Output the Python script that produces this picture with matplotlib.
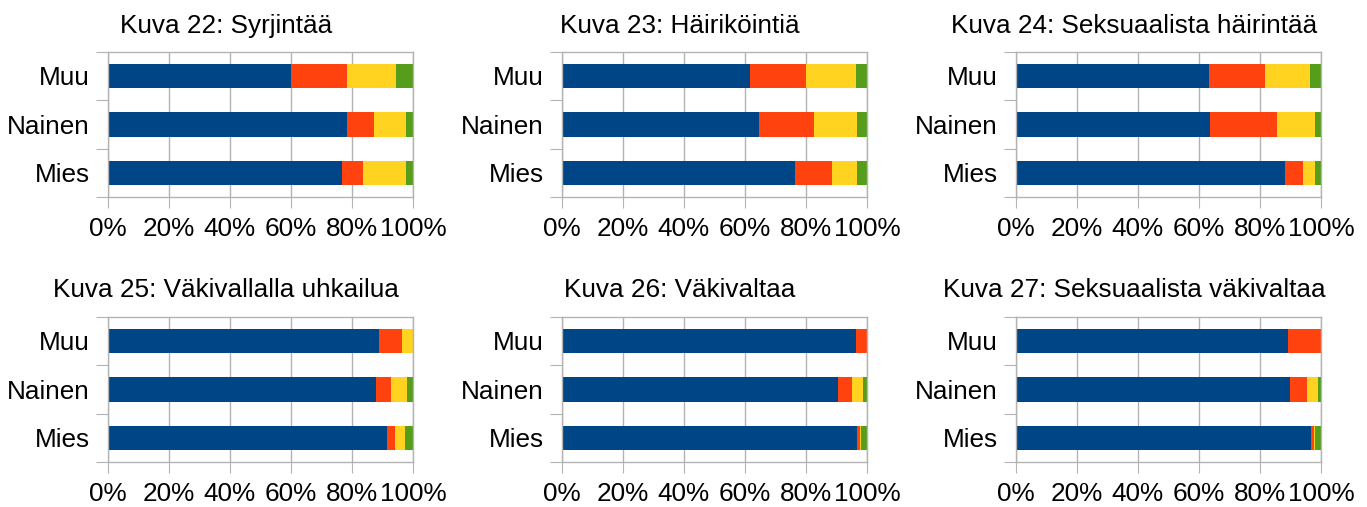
import numpy as np
import matplotlib
matplotlib.use("Agg")
import matplotlib.pyplot as plt

plt.rcParams['font.family'] = ['Liberation Sans', 'DejaVu Sans']

# kategoriat alhaalta ylös
categories = ['Mies', 'Nainen', 'Muu']
titles = ['Kuva 22: Syrjintää', 'Kuva 23: Häiriköintiä',
          'Kuva 24: Seksuaalista häirintää', 'Kuva 25: Väkivallalla uhkailua',
          'Kuva 26: Väkivaltaa', 'Kuva 27: Seksuaalista väkivaltaa']

# osuudet (%) jokaiselle kuvalle: [Mies, Nainen, Muu]
blue = [[76.7, 78.4, 60.0], [76.5, 64.7, 61.7], [88.0, 63.7, 63.4],
        [91.5, 87.9, 88.9], [96.5, 90.6, 96.2], [96.5, 89.9, 89.0]]
red = [[6.9, 8.8, 18.4], [12.1, 18.0, 18.4], [5.9, 21.7, 18.3],
       [2.6, 4.9, 7.5], [1.0, 4.3, 3.8], [1.0, 5.6, 11.0]]
yellow = [[14.1, 10.5, 16.0], [7.9, 14.1, 16.1], [4.2, 12.7, 14.5],
          [3.3, 5.2, 3.6], [0.6, 3.6, 0.0], [0.6, 3.3, 0.0]]
green = [[2.3, 2.3, 5.6], [3.5, 3.2, 3.8], [1.9, 1.9, 3.8],
         [2.6, 2.0, 0.0], [1.9, 1.5, 0.0], [1.9, 1.2, 0.0]]

colors = ['#004586', '#ff420e', '#ffd320', '#579d1c']
grey = '#b3b3b3'
fs = 18.8

W, H = 1367, 507
fig = plt.figure(figsize=(W / 100, H / 100), dpi=100)

ax_left = [107.7, 561.7, 1015.7]
ax_top = [51.7, 316.7]
ax_w, ax_h = 305.5, 145.5

for i in range(6):
    row, col = divmod(i, 3)
    l = ax_left[col]
    t = ax_top[row]
    ax = fig.add_axes([l / W, 1 - (t + ax_h) / H, ax_w / W, ax_h / H])

    y = np.arange(len(categories))
    left = np.zeros(len(categories))
    for series, c in zip([blue[i], red[i], yellow[i], green[i]], colors):
        vals = np.array(series)
        ax.barh(y, vals, left=left, height=0.5, color=c, zorder=2)
        left += vals

    ax.set_xlim(0, 100)
    ax.set_ylim(-0.5, len(categories) - 0.5)
    ax.set_xticks(np.arange(0, 101, 20))
    ax.set_xticklabels(['%d%%' % v for v in range(0, 101, 20)])
    ax.set_yticks(np.arange(-0.5, len(categories), 1.0))
    ax.set_yticklabels([])
    ax.set_yticks(y, minor=True)
    ax.set_yticklabels(categories, minor=True)
    ax.tick_params(axis='y', which='major', length=8.5, width=0.8, color=grey)
    ax.tick_params(axis='y', which='minor', length=0, pad=13, labelsize=fs)
    ax.tick_params(axis='x', length=8, width=0.8, color=grey, labelsize=fs, pad=6)
    ax.grid(axis='x', color=grey, linewidth=1.0, zorder=0)
    ax.set_axisbelow(True)
    for s in ax.spines.values():
        s.set_color(grey)
        s.set_linewidth(1.0)

    fig.text((226 + 454 * col) / W, 1 - (33 if row == 0 else 297) / H,
             titles[i], ha='center', va='baseline', fontsize=fs)

fig.savefig('out.png', dpi=100)
